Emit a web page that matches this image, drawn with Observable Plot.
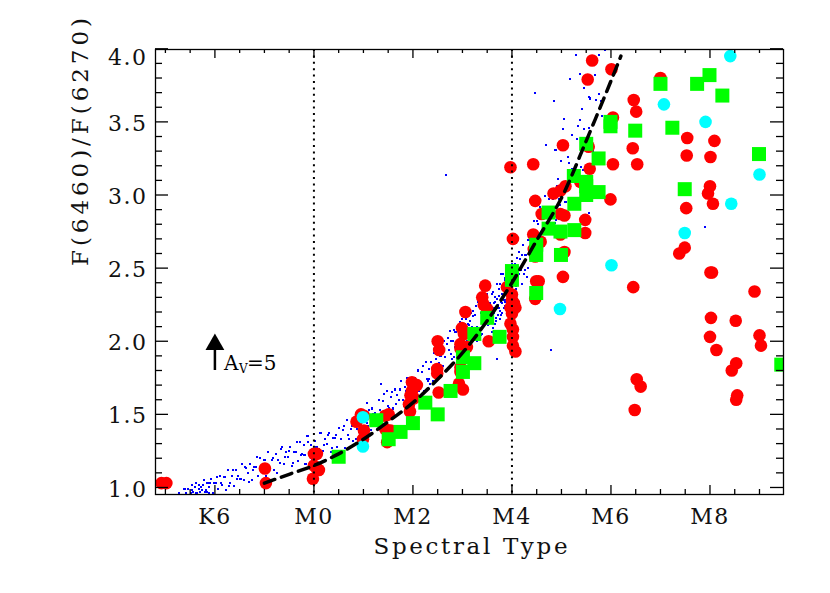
<!DOCTYPE html>
<html>
<head>
<meta charset="utf-8">
<script src="https://cdn.jsdelivr.net/npm/d3@7"></script>
<script src="https://cdn.jsdelivr.net/npm/@observablehq/plot@0.6"></script>
<style>
  body { margin: 0; background: #fff; }
</style>
</head>
<body>
<div id="chart"></div>
<script>
// ---- data (spectral type: M0 = 0, K6 = -2, M8 = 8) ----
const blueModel = [
  [-2.72,0.96],[-2.67,0.94],[-2.63,0.99],[-2.58,0.96],[-2.55,0.99],[-2.51,0.94],[-2.47,1.02],[-2.44,0.97],[-2.40,1.00],[-2.36,0.96],
  [-2.33,1.02],[-2.29,1.00],[-2.26,0.98],[-2.22,1.05],[-2.18,0.98],[-2.15,1.03],[-2.11,1.00],[-2.07,1.06],[-2.04,0.96],[-2.01,1.03],
  [-2.49,0.96],[-2.38,0.96],[-2.30,0.97],[-2.20,0.97],[-2.12,0.96],[-2.60,0.95],
  [-1.97,1.03],[-1.93,0.99],[-1.89,1.08],[-1.85,1.02],[-1.81,1.07],[-1.77,0.98],[-1.73,1.12],[-1.69,1.03],[-1.65,1.08],[-1.61,1.01],
  [-1.57,1.12],[-1.53,1.08],[-1.49,1.06],[-1.45,1.16],[-1.41,1.05],[-1.37,1.13],[-1.33,1.10],
  [-1.29,1.16],[-1.25,1.05],[-1.21,1.14],[-1.17,1.14],[-1.13,1.08],[-1.09,1.20],[-1.05,1.13],[-1.01,1.19],[-0.97,1.08],[-0.93,1.24],
  [-0.89,1.13],[-0.85,1.19],[-0.81,1.12],[-0.77,1.23],[-0.73,1.19],[-0.69,1.17],[-0.65,1.28],[-0.61,1.16],
  [-0.57,1.24],[-0.53,1.21],[-0.49,1.28],[-0.45,1.15],[-0.41,1.24],[-0.37,1.24],[-0.33,1.18],[-0.29,1.31],[-0.25,1.23],[-0.21,1.29],
  [-0.17,1.16],[-0.13,1.35],[-0.09,1.22],[-0.05,1.29],[-0.01,1.20],
  [0.03,1.32],[0.07,1.28],[0.11,1.26],[0.15,1.37],[0.19,1.25],[0.23,1.33],[0.27,1.30],[0.31,1.37],[0.35,1.24],[0.39,1.34],
  [0.43,1.34],[0.47,1.28],[0.51,1.41],[0.55,1.33],[0.59,1.39],[0.63,1.27],[0.67,1.46],
  [0.71,1.33],[0.75,1.40],[0.79,1.32],[0.83,1.45],[0.87,1.40],[0.91,1.38],[0.95,1.51],[0.99,1.37],
  [1.03,1.47],[1.07,1.44],[1.11,1.53],[1.15,1.39],[1.19,1.50],[1.23,1.51],[1.27,1.45],[1.31,1.60],[1.35,1.51],[1.39,1.59],
  [1.43,1.47],[1.47,1.66],[1.51,1.54],[1.55,1.62],[1.59,1.54],
  [1.63,1.67],[1.67,1.63],[1.71,1.60],[1.75,1.73],[1.79,1.60],[1.83,1.69],[1.87,1.66],[1.91,1.75],[1.95,1.61],[1.99,1.72],
  [2.03,1.72],[2.07,1.65],[2.11,1.80],[2.15,1.71],[2.19,1.79],[2.23,1.66],[2.27,1.86],
  [2.31,1.73],[2.33,1.81],[2.35,1.71],[2.37,1.86],[2.39,1.81],[2.41,1.78],[2.43,1.92],[2.45,1.78],[2.47,1.88],[2.49,1.84],
  [2.51,1.94],[2.53,1.77],[2.55,1.90],[2.57,1.90],[2.59,1.82],
  [2.62,2.00],[2.65,1.89],[2.68,1.98],[2.71,1.82],[2.74,2.07],[2.77,1.91],[2.80,2.00],[2.83,1.89],[2.86,2.06],[2.89,2.00],
  [2.92,1.98],[2.95,2.13],[2.98,1.97],[3.01,2.09],[3.04,2.05],[3.07,2.15],
  [3.10,1.98],[3.13,2.11],[3.15,2.14],[3.18,2.02],[3.21,2.21],[3.23,2.09],[3.26,2.18],[3.29,2.00],[3.31,2.27],[3.34,2.09],
  [3.37,2.19],[3.39,2.05],[3.42,2.25],[3.45,2.18],[3.47,2.13],[3.50,2.32],[3.53,2.12],[3.55,2.26],[3.58,2.20],
  [3.60,2.32],[3.62,2.09],[3.64,2.26],[3.66,2.27],[3.68,2.16],[3.70,2.39],[3.72,2.25],[3.74,2.36],[3.76,2.15],[3.78,2.46],
  [3.80,2.26],[3.82,2.36],[3.84,2.23],[3.86,2.43],[3.88,2.36],[3.90,2.32],[3.92,2.50],[3.94,2.31],[3.96,2.44],[3.98,2.40],
  [4.00,2.50],[4.02,2.32],[4.04,2.46],[4.06,2.46],[4.08,2.38],
  [3.63,2.19],[3.67,2.22],[3.71,2.18],[3.75,2.21],[3.79,2.19],[3.83,2.28],[3.87,2.24],[3.69,2.29],[3.73,2.31],[3.77,2.27],
  [3.81,2.31],[3.85,2.33],[3.65,2.12],[3.89,2.28],[3.58,2.14],[3.54,2.18],
  [4.11,2.57],[4.14,2.46],[4.17,2.56],[4.20,2.39],[4.23,2.66],[4.26,2.49],[4.29,2.59],[4.32,2.50],[4.35,2.69],[4.38,2.65],
  [4.41,2.65],[4.44,2.82],[4.47,2.68],[4.50,2.82],[4.53,2.80],
  [4.57,2.92],[4.61,2.75],[4.65,2.89],[4.69,2.90],[4.73,2.81],[4.77,3.01],[4.81,2.90],[4.85,3.00],[4.89,2.83],[4.93,3.11],[4.97,2.93],
  [5.04,3.07],[5.10,2.95],[5.16,3.22],[5.22,3.18],[5.28,3.16],[5.34,3.47],[5.40,3.19],[5.46,3.45],[5.52,3.39],[5.58,3.66],
  [5.64,3.30],[5.70,3.65],[5.76,3.69],[5.82,3.54],[5.88,3.99],
  [4.46,3.70],[4.85,3.64],[5.18,3.79],[5.30,3.96],[5.37,3.83],[5.05,3.52],[5.03,3.45],[2.66,3.14],[4.68,3.34],[4.88,3.31],
  [5.00,3.23],[5.75,3.96],[5.45,3.73],[5.55,3.67],[5.42,3.59],[5.38,3.51],[5.22,3.41],[5.62,3.17],[5.55,2.88],[7.90,2.78],
  [4.78,1.94],[3.70,1.88],[1.36,1.71],[1.07,1.58],
  [-2.69,0.95],[-2.61,0.99],[-2.53,0.95],[-2.46,0.98],[-2.39,1.03],[-2.32,0.99],[-2.25,1.02],[-2.17,0.97],[-2.09,1.03],[-2.03,0.95],
  [-1.95,1.07],[-1.87,1.03],[-1.79,1.07],[-1.71,1.01],[-1.63,1.12],[-1.55,1.06],[-1.47,1.06],[-1.39,1.14],[-1.31,1.04],
  [-1.23,1.12],[-1.15,1.21],[-1.07,1.13],[-0.99,1.19],[-0.91,1.12],[-0.83,1.20],[-0.75,1.10],[-0.67,1.26],
  [-0.59,1.21],[-0.51,1.25],[-0.43,1.17],[-0.35,1.31],[-0.27,1.22],[-0.19,1.22],[-0.11,1.31],[-0.03,1.19],
  [0.05,1.28],[0.13,1.37],[0.21,1.29],[0.29,1.36],[0.37,1.27],[0.45,1.36],[0.53,1.25],[0.61,1.42],[0.69,1.36],[0.77,1.42],
  [0.85,1.33],[0.93,1.50],
  [1.01,1.41],[1.09,1.42],[1.17,1.54],[1.25,1.43],[1.33,1.53],[1.41,1.64],[1.49,1.56],[1.57,1.65],
  [1.65,1.57],[1.73,1.67],[1.81,1.56],[1.89,1.75],[1.97,1.69],[2.05,1.75],[2.13,1.66],[2.21,1.83],[2.29,1.74],
  [2.32,1.74],[2.36,1.86],[2.40,1.73],[2.44,1.84],[2.48,1.95],[2.52,1.85],[2.56,1.94],[2.60,1.83],
  [2.63,1.94],[2.66,1.80],[2.70,2.02],[2.73,1.94],[2.76,2.00],[2.79,1.88],[2.82,2.08],[2.85,1.96],[2.88,1.96],[2.91,2.08],
  [2.94,1.92],[2.97,2.04],[3.00,2.15],[3.03,2.04],[3.06,2.12],[3.09,2.00],
  [3.12,2.12],[3.14,1.96],[3.17,2.19],[3.20,2.10],[3.22,2.17],[3.25,2.03],[3.28,2.24],[3.30,2.10],[3.33,2.09],[3.36,2.24],
  [3.38,2.04],[3.41,2.18],[3.44,2.31],[3.46,2.16],[3.49,2.26],[3.52,2.11],[3.56,2.25],[3.59,2.06],
  [3.61,2.34],[3.63,2.23],[3.65,2.30],[3.67,2.14],[3.69,2.39],[3.71,2.23],[3.73,2.23],[3.75,2.39],[3.77,2.18],[3.79,2.32],
  [3.81,2.46],[3.83,2.31],[3.85,2.42],[3.87,2.27],[3.89,2.40],[3.91,2.23],[3.93,2.48],[3.95,2.39],[3.97,2.46],[3.99,2.32],
  [4.01,2.53],[4.03,2.40],[4.05,2.40],[4.07,2.53],[4.09,2.36],
  [4.12,2.49],[4.15,2.61],[4.18,2.49],[4.21,2.59],[4.24,2.46],[4.27,2.59],[4.30,2.44],[4.33,2.69],[4.36,2.63],[4.39,2.71],
  [4.42,2.61],[4.45,2.82],[4.48,2.72],[4.51,2.74],[4.54,2.89],
  [4.59,2.75],[4.63,2.87],[4.67,2.99],[4.71,2.87],[4.75,2.97],[4.79,2.84],[4.83,2.97],[4.87,2.81],[4.91,3.06],[4.95,2.97],[4.99,3.05],
  [5.07,2.95],[5.13,3.26],[5.19,3.10],[5.25,3.12],[5.31,3.38],[5.43,3.17],[5.55,3.46],[5.67,3.82],[5.79,3.64]
];

const redStars = [
  [-3.08,1.03],[-2.98,1.03],[-0.99,1.13],[-0.97,1.03],[0.00,1.23],[0.06,1.23],[0.00,1.15],[0.06,1.13],[0.10,1.12],[-0.02,1.06],
  [0.95,1.50],[0.86,1.45],[1.01,1.49],[1.01,1.39],[0.99,1.33],
  [1.51,1.50],[1.44,1.49],[1.44,1.40],[1.55,1.39],[1.48,1.31],
  [1.98,1.72],[2.08,1.70],[1.98,1.66],[1.95,1.63],[2.02,1.61],[1.92,1.57],[1.94,1.52],
  [2.52,1.65],[2.49,1.81],[2.49,1.78],[2.96,1.82],[2.96,1.79],[2.93,1.71],[3.01,1.67],
  [2.50,2.00],[2.53,1.94],[2.96,1.98],[2.96,1.95],[3.09,1.96],[2.99,2.09],[3.03,2.05],[3.06,2.20],[3.53,2.00],
  [3.46,2.38],[3.40,2.30],[3.43,2.25],[3.50,2.22],
  [4.00,2.32],[4.00,2.28],[4.04,2.26],[3.97,2.23],[4.07,2.23],[4.00,2.19],[3.97,2.12],[4.02,2.08],[4.02,2.03],[4.02,1.97],[4.07,1.93],
  [3.90,2.37],[4.02,2.70],[3.97,3.19],
  [4.43,3.21],[4.47,2.96],[4.43,2.73],[4.58,2.68],[4.44,2.63],[4.47,2.58],[4.49,2.41],[4.54,2.41],[4.47,2.29],
  [4.60,2.87],[4.98,2.87],[5.06,2.86],[4.98,2.73],[5.06,2.61],[5.03,2.44],
  [4.84,3.01],[4.98,3.03],[5.08,3.06],[5.03,3.34],
  [5.62,3.92],[6.01,3.86],[5.53,3.79],[5.55,3.33],[5.57,3.18],[5.38,3.09],[5.48,2.83],[5.48,2.74],[5.99,2.97],
  [6.04,3.53],[6.04,3.21],[6.46,3.65],[6.51,3.57],[6.44,3.32],[6.53,3.21],[6.45,2.37],[6.52,1.74],[6.60,1.69],[6.48,1.53],
  [7.00,3.80],[7.54,3.39],[7.53,3.27],[7.52,2.91],[7.49,2.64],[7.38,2.60],
  [8.09,3.37],[8.01,3.26],[8.00,3.06],[7.96,3.01],[8.06,2.94],[8.01,2.47],[8.04,2.47],[8.02,2.16],[8.00,2.03],[8.13,1.94],
  [8.52,2.14],[8.53,1.85],[8.44,1.80],[8.55,1.63],[8.53,1.60],[8.46,0.91],
  [8.90,2.34],[9.00,2.04],[9.03,1.97]
];

const greenStars = [
  [0.50,1.21],[1.26,1.46],[1.51,1.33],[1.75,1.38],[2.00,1.44],[2.25,1.58],[2.50,1.50],[2.76,1.66],[3.01,1.89],[3.24,1.85],
  [3.01,1.79],[3.24,2.05],[3.50,2.16],[3.75,2.03],[4.00,2.48],[4.00,2.42],[4.49,2.66],[4.49,2.59],[4.49,2.33],[4.74,2.88],
  [4.74,2.77],[4.98,2.75],[4.99,2.59],[5.26,2.76],[5.26,2.94],[5.25,3.13],[5.50,3.35],[5.75,3.25],[5.50,3.09],[5.50,3.06],
  [5.75,3.02],[5.50,3.00],[5.99,3.50],[5.99,3.47],[6.49,3.44],[7.00,3.76],[7.24,3.46],[7.74,3.76],[7.99,3.82],[8.25,3.68],
  [7.49,3.04],[8.99,3.28],[9.44,1.84]
];

const cyanStars = [
  [8.41,3.95],[7.07,3.62],[7.91,3.50],[9.00,3.14],[8.43,2.94],[7.49,2.74],[6.01,2.52],[4.97,2.22],[0.99,1.48],[0.99,1.28]
];

const fitX = [-1.0,-0.5,0.0,0.5,1.0,1.5,2.0,2.5,3.0,3.5,4.0,4.5,5.0,5.5,6.0,6.2];
const fitY = [1.03,1.09,1.15,1.23,1.33,1.45,1.58,1.74,1.92,2.14,2.40,2.69,2.98,3.37,3.78,3.95];

const refLines = [0, 4];                       // M0 and M4
const xTickValues = [-2, 0, 2, 4, 6, 8];
const xTickLabels = ["K6", "M0", "M2", "M4", "M6", "M8"];
const yTickValues = [1.0, 1.5, 2.0, 2.5, 3.0, 3.5];
const yTickLabels = ["1.0", "1.5", "2.0", "2.5", "3.0", "3.5"];
const yTopValue = [4.0];
const yTopLabel = ["4.0"];
const xTitle = "Spectral Type";
const yTitle = "F(6460)/F(6270)";

// reddening vector (A_V = 5)
const avArrowX = [-2.0];
const avArrowTail = 1.80;
const avArrowHeadBase = 1.96;
const avArrowHeadCenter = 1.978;
const avLabelMain = ["A"];
const avLabelSub = ["V"];
const avLabelEnd = ["=5"];

// ---- layout ----
const W = 830, H = 593;
const mL = 155, mR = 47, mT = 49, mB = 99;
const FW = W - mL - mR, FH = H - mT - mB;

const xMajor = d3.range(-2, 9, 2);
const xMinor = d3.range(-3, 9.01, 0.5).filter(v => Math.abs(v % 2) > 1e-9);
const yMajor = d3.range(1.0, 4.01, 0.5);
const yMinor = d3.range(1.0, 3.95, 0.1).filter(v => Math.abs((v * 10) % 5) > 1e-6 && Math.abs((v * 10) % 5 - 5) > 1e-6);

const fit = fitX.map((x, i) => ({x, y: fitY[i]}));
const font = "DejaVu Serif";

const chart = Plot.plot({
  width: W,
  height: H,
  marginLeft: mL,
  marginRight: mR,
  marginTop: mT,
  marginBottom: mB,
  style: {fontFamily: font, fontSize: "22px", letterSpacing: "1.5px", background: "white", color: "black"},
  x: {domain: [-3.2, 9.485], axis: null},
  y: {domain: [0.952, 3.995], axis: null},
  marks: [
    Plot.dot(blueModel, {x: d => d[0], y: d => d[1], r: 1.15, symbol: "square", fill: "#0000ff", shapeRendering: "crispEdges", clip: true}),
    Plot.dot(redStars, {x: d => d[0], y: d => d[1], r: 6.3, fill: "#ff0000", clip: true}),
    Plot.dot(greenStars, {x: d => d[0], y: d => d[1], r: 7.9, symbol: "square", fill: "#00ff00", clip: true}),
    Plot.dot(cyanStars, {x: d => d[0], y: d => d[1], r: 6.3, fill: "#00ffff", clip: true}),
    Plot.line(fit, {x: "x", y: "y", curve: "catmull-rom", stroke: "black", strokeWidth: 3.5, strokeDasharray: "11,7", clip: true}),
    Plot.ruleX(refLines, {x: d => d, stroke: "black", strokeWidth: 2, strokeDasharray: "2,4.4"}),
    // reddening arrow
    Plot.ruleX(avArrowX, {x: d => d, y1: avArrowTail, y2: avArrowHeadBase, stroke: "black", strokeWidth: 2.5}),
    Plot.dot(avArrowX, {x: d => d, y: avArrowHeadCenter, symbol: "triangle", r: 7, fill: "black"}),
    Plot.text(avLabelMain, {x: avArrowX[0], y: avArrowTail, text: d => d, textAnchor: "start", dx: 9, dy: -7, fontSize: 20}),
    Plot.text(avLabelSub, {x: avArrowX[0], y: avArrowTail, text: d => d, textAnchor: "start", dx: 24, dy: -1, fontSize: 12}),
    Plot.text(avLabelEnd, {x: avArrowX[0], y: avArrowTail, text: d => d, textAnchor: "start", dx: 32, dy: -7, fontSize: 20}),
    // frame and inward ticks
    Plot.frame({stroke: "black", strokeWidth: 1.3}),
    Plot.tickX(xMinor, {x: d => d, insetTop: FH - 5, stroke: "black", strokeWidth: 1.3}),
    Plot.tickX(xMajor, {x: d => d, insetTop: FH - 9, stroke: "black", strokeWidth: 1.3}),
    Plot.tickX(xMinor, {x: d => d, insetBottom: FH - 4, stroke: "black", strokeWidth: 1.3}),
    Plot.tickX(xMajor, {x: d => d, insetBottom: FH - 9, stroke: "black", strokeWidth: 1.3}),
    Plot.tickY(yMinor, {y: d => d, insetRight: FW - 7, stroke: "black", strokeWidth: 1.3}),
    Plot.tickY(yMajor, {y: d => d, insetRight: FW - 13, stroke: "black", strokeWidth: 1.3}),
    Plot.tickY(yMinor, {y: d => d, insetLeft: FW - 7, stroke: "black", strokeWidth: 1.3}),
    Plot.tickY(yMajor, {y: d => d, insetLeft: FW - 13, stroke: "black", strokeWidth: 1.3}),
    // tick labels
    Plot.text(xTickValues, {x: d => d, text: (d, i) => xTickLabels[i], frameAnchor: "bottom", dy: 29, fontSize: 22, fill: "#111"}),
    Plot.text(yTickValues, {y: d => d, text: (d, i) => yTickLabels[i], frameAnchor: "left", textAnchor: "end", dx: -8, dy: 2, fontSize: 22, fill: "#111"}),
    Plot.text(yTopValue, {y: d => d, text: (d, i) => yTopLabel[i], frameAnchor: "left", textAnchor: "end", dx: -8, dy: 9, fontSize: 22, fill: "#111"}),
    // axis titles
    Plot.text([xTitle], {text: d => d, frameAnchor: "bottom", dx: 1, dy: 59, fontSize: 23, fill: "#111"}),
    Plot.text([yTitle], {text: d => d, frameAnchor: "left", dx: -75, dy: -6, rotate: -90, fontSize: 23, fill: "#111"})
  ]
});

d3.select(chart).selectAll("text").each(function() {
  const t = this.textContent;
  if (t === xTitle) d3.select(this).attr("textLength", 194).attr("lengthAdjust", "spacing").style("letter-spacing", "0px");
  if (t === yTitle) d3.select(this).attr("textLength", 248).attr("lengthAdjust", "spacing").style("letter-spacing", "0px");
  if (t === "A" || t === "V" || t === "=5") d3.select(this).style("letter-spacing", "0px");
});

document.getElementById("chart").appendChild(chart);
</script>
</body>
</html>
